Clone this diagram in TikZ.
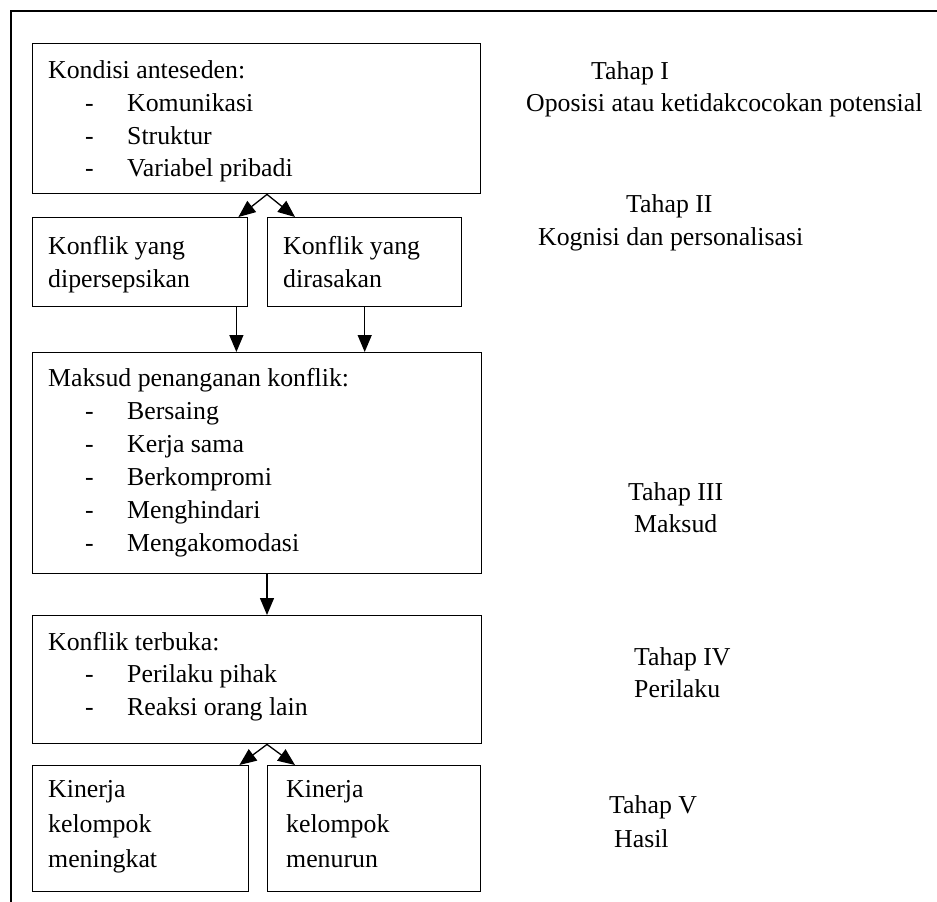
\documentclass[tikz,border=0pt]{standalone}
\usepackage{fontspec}
\setmainfont{Liberation Serif}
\usetikzlibrary{arrows.meta}
\begin{document}
\begin{tikzpicture}[x=1pt,y=-1pt,
  box/.style={draw,line width=1.4pt,inner sep=0pt,anchor=north west},
  txt/.style={anchor=base west,inner sep=0pt,font=\fontsize{25.8}{32}\selectfont},
  arr/.style={line width=1.3pt,-{Triangle[length=17pt,width=14pt]}},
  frameline/.style={line width=1.6pt}]
\useasboundingbox (0,0) rectangle (937,902);
\clip (0,0) rectangle (937,902);
\fill[white] (0,0) rectangle (937,902);
% outer frame
\draw[frameline] (11,920) -- (11,11) -- (950,11);
% boxes
\node[box,minimum width=448pt,minimum height=150pt] (b1) at (32,43) {};
\node[box,minimum width=215pt,minimum height=89pt] (b2a) at (32,217) {};
\node[box,minimum width=194pt,minimum height=89pt] (b2b) at (267,217) {};
\node[box,minimum width=449pt,minimum height=221pt] (b3) at (32,352) {};
\node[box,minimum width=449pt,minimum height=128pt] (b4) at (32,615) {};
\node[box,minimum width=216pt,minimum height=126pt] (b5a) at (32,765) {};
\node[box,minimum width=213pt,minimum height=126pt] (b5b) at (267,765) {};
% box 1 text
\node[txt] (t11) at (48,78) {Kondisi anteseden:};
\node[txt] (d12) at (85,111) {-};
\node[txt] (t12) at (127,111) {Komunikasi};
\node[txt] (d13) at (85,144) {-};
\node[txt] (t13) at (127,144) {Struktur};
\node[txt] (d14) at (85,176) {-};
\node[txt] (t14) at (127,176) {Variabel pribadi};
% box 2
\node[txt] (t21) at (48,254) {Konflik yang};
\node[txt] (t22) at (48,287) {dipersepsikan};
\node[txt] (t23) at (283,254) {Konflik yang};
\node[txt] (t24) at (283,287) {dirasakan};
% box 3
\node[txt] (t31) at (48,386) {Maksud penanganan konflik:};
\node[txt] (d32) at (85,419) {-};
\node[txt] (t32) at (127,419) {Bersaing};
\node[txt] (d33) at (85,452) {-};
\node[txt] (t33) at (127,452) {Kerja sama};
\node[txt] (d34) at (85,485) {-};
\node[txt] (t34) at (127,485) {Berkompromi};
\node[txt] (d35) at (85,518) {-};
\node[txt] (t35) at (127,518) {Menghindari};
\node[txt] (d36) at (85,551) {-};
\node[txt] (t36) at (127,551) {Mengakomodasi};
% box 4
\node[txt] (t41) at (48,650) {Konflik terbuka:};
\node[txt] (d42) at (85,682) {-};
\node[txt] (t42) at (127,682) {Perilaku pihak};
\node[txt] (d43) at (85,715) {-};
\node[txt] (t43) at (127,715) {Reaksi orang lain};
% box 5
\node[txt] (t51) at (48,797) {Kinerja};
\node[txt] (t52) at (48,832) {kelompok};
\node[txt] (t53) at (48,867) {meningkat};
\node[txt] (t54) at (286,797) {Kinerja};
\node[txt] (t55) at (286,832) {kelompok};
\node[txt] (t56) at (286,867) {menurun};
% stage labels
\node[txt] (s1a) at (591,79) {Tahap I};
\node[txt] (s1b) at (526,111) {Oposisi atau ketidakcocokan potensial};
\node[txt] (s2a) at (626,212) {Tahap II};
\node[txt] (s2b) at (538,245) {Kognisi dan personalisasi};
\node[txt] (s3a) at (628,500) {Tahap III};
\node[txt] (s3b) at (634,532) {Maksud};
\node[txt] (s4a) at (634,665) {Tahap IV};
\node[txt] (s4b) at (634,697) {Perilaku};
\node[txt] (s5a) at (609,813) {Tahap V};
\node[txt] (s5b) at (614,847) {Hasil};
% connectors
\coordinate (f1) at (b1.south -| b2b.west);
\draw[arr] (f1) -- ([xshift=-10pt]b2a.north east);
\draw[arr] (f1) -- ([xshift=28pt]b2b.north west);
\coordinate (d1) at ([xshift=-12pt]b2a.south east);
\draw[arr] (d1) -- (d1 |- b3.north);
\draw[arr] (b2b.south) -- (b2b.south |- b3.north);
\draw[arr] (b3.south -| b5b.west) -- (b4.north -| b5b.west);
\coordinate (f2) at (b4.south -| b5b.west);
\draw[arr] (f2) -- ([xshift=-10pt]b5a.north east);
\draw[arr] (f2) -- ([xshift=28pt]b5b.north west);
\end{tikzpicture}
\end{document}
